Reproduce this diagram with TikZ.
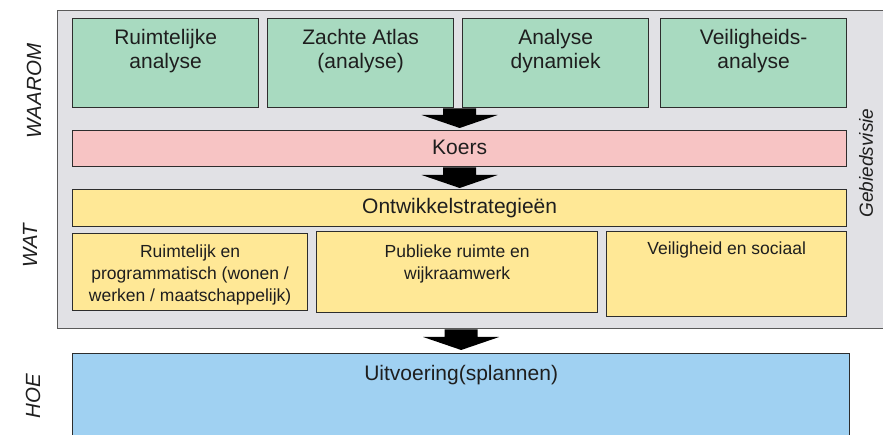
\documentclass[tikz,border=0pt]{standalone}
\usepackage{fontspec}
\setmainfont{Liberation Sans}
\usetikzlibrary{calc}
\definecolor{cgreen}{RGB}{168,218,192}
\definecolor{cpink}{RGB}{247,196,196}
\definecolor{cyellow}{RGB}{255,232,150}
\definecolor{cblue}{RGB}{160,209,242}
\definecolor{cgray}{RGB}{225,225,229}
\definecolor{frameline}{RGB}{90,90,90}
\definecolor{boxline}{RGB}{45,45,45}
\definecolor{txt}{RGB}{30,30,30}
\newcommand\blockarr[2]{%
  \fill[black] ($(#1)+(-16.5,0)$) -- ($(#2)+(-16.5,-13)$) -- ($(#2)+(-38,-13)$) -- (#2)
    -- ($(#2)+(38,-13)$) -- ($(#2)+(16.5,-13)$) -- ($(#1)+(16.5,0)$) -- cycle;}
\begin{document}
\begin{tikzpicture}[x=1pt,y=-1pt,
  box/.style={draw=boxline, line width=1.3pt, inner sep=0, anchor=north west},
  big/.style={font=\fontsize{21}{24}\selectfont, text=txt, inner sep=0, align=center},
  small/.style={font=\fontsize{17.5}{22}\selectfont, text=txt, inner sep=0, align=center},
  side/.style={font=\fontsize{20.5}{24}\selectfont\itshape, text=txt, rotate=90, inner sep=0}]
\useasboundingbox (0,0) rectangle (883,435);
\clip (0,0) rectangle (883,435);
% frame
\node[box, fill=cgray, draw=frameline, line width=1.4pt, minimum width=826, minimum height=318] (frame) at (57,10) {};
% green boxes
\node[box, fill=cgreen, minimum width=186, minimum height=89] (g1) at (72,18) {};
\node[box, fill=cgreen, minimum width=186, minimum height=89] (g2) at (267,18) {};
\node[box, fill=cgreen, minimum width=186, minimum height=89] (g3) at (462,18) {};
\node[box, fill=cgreen, minimum width=186, minimum height=89] (g4) at (660,18) {};
\node[big, anchor=north] (t1) at ($(g1.north)+(0,11.5)$) {Ruimtelijke\\analyse};
\node[big, anchor=north] (t2) at ($(g2.north)+(0,11.5)$) {Zachte Atlas\\(analyse)};
\node[big, anchor=north] (t3) at ($(g3.north)+(0,11.5)$) {Analyse\\dynamiek};
\node[big, anchor=north] (t4) at ($(g4.north)+(0,11.5)$) {Veiligheids-\\analyse};
% koers
\node[box, fill=cpink, minimum width=774, minimum height=36] (koers) at (72,130) {};
\node[big, anchor=base] (tk) at ($(koers.north)+(0,25)$) {Koers};
% ontwikkelstrategieen
\node[box, fill=cyellow, minimum width=774, minimum height=37] (ontw) at (72,189) {};
\node[big, anchor=base] (to) at ($(ontw.north)+(0,25)$) {Ontwikkelstrategieën};
\node[box, fill=cyellow, minimum width=235, minimum height=77] (s1) at (72,233) {};
\node[box, fill=cyellow, minimum width=281, minimum height=81] (s2) at (316,231) {};
\node[box, fill=cyellow, minimum width=240, minimum height=85] (s3) at (606,231) {};
\node[small, anchor=north] (ts1) at ($(s1.north)+(0,11.5)$) {Ruimtelijk en\\programmatisch (wonen /\\werken / maatschappelijk)};
\node[small, anchor=north] (ts2) at ($(s2.north)+(0,13.5)$) {Publieke ruimte en\\wijkraamwerk};
\node[small, anchor=north] (ts3) at ($(s3.north)+(0,10.5)$) {Veiligheid en sociaal};
% uitvoering
\node[box, fill=cblue, minimum width=777, minimum height=120] (blue) at (72,353) {};
\node[big, anchor=base] (tb) at ($(blue.north)+(0,27)$) {Uitvoering(splannen)};
% side labels
\node[side] (waarom) at (34,91) {WAAROM};
\node[side] (wat) at (30,246) {WAT};
\node[side] (hoe) at (33,396) {HOE};
\node[side, font=\fontsize{19}{22}\selectfont\itshape] (gebied) at (866,163) {Gebiedsvisie};
% arrows
\coordinate (a1s) at (g2.south -| koers.north);
\coordinate (a1e) at ($(koers.north)+(0,-2)$);
\coordinate (a2e) at ($(ontw.north)+(0,-1)$);
\coordinate (a3s) at (frame.south -| blue.north);
\coordinate (a3e) at ($(blue.north)+(0,-3)$);
\blockarr{a1s}{a1e}
\blockarr{koers.south}{a2e}
\blockarr{a3s}{a3e}
\end{tikzpicture}
\end{document}
